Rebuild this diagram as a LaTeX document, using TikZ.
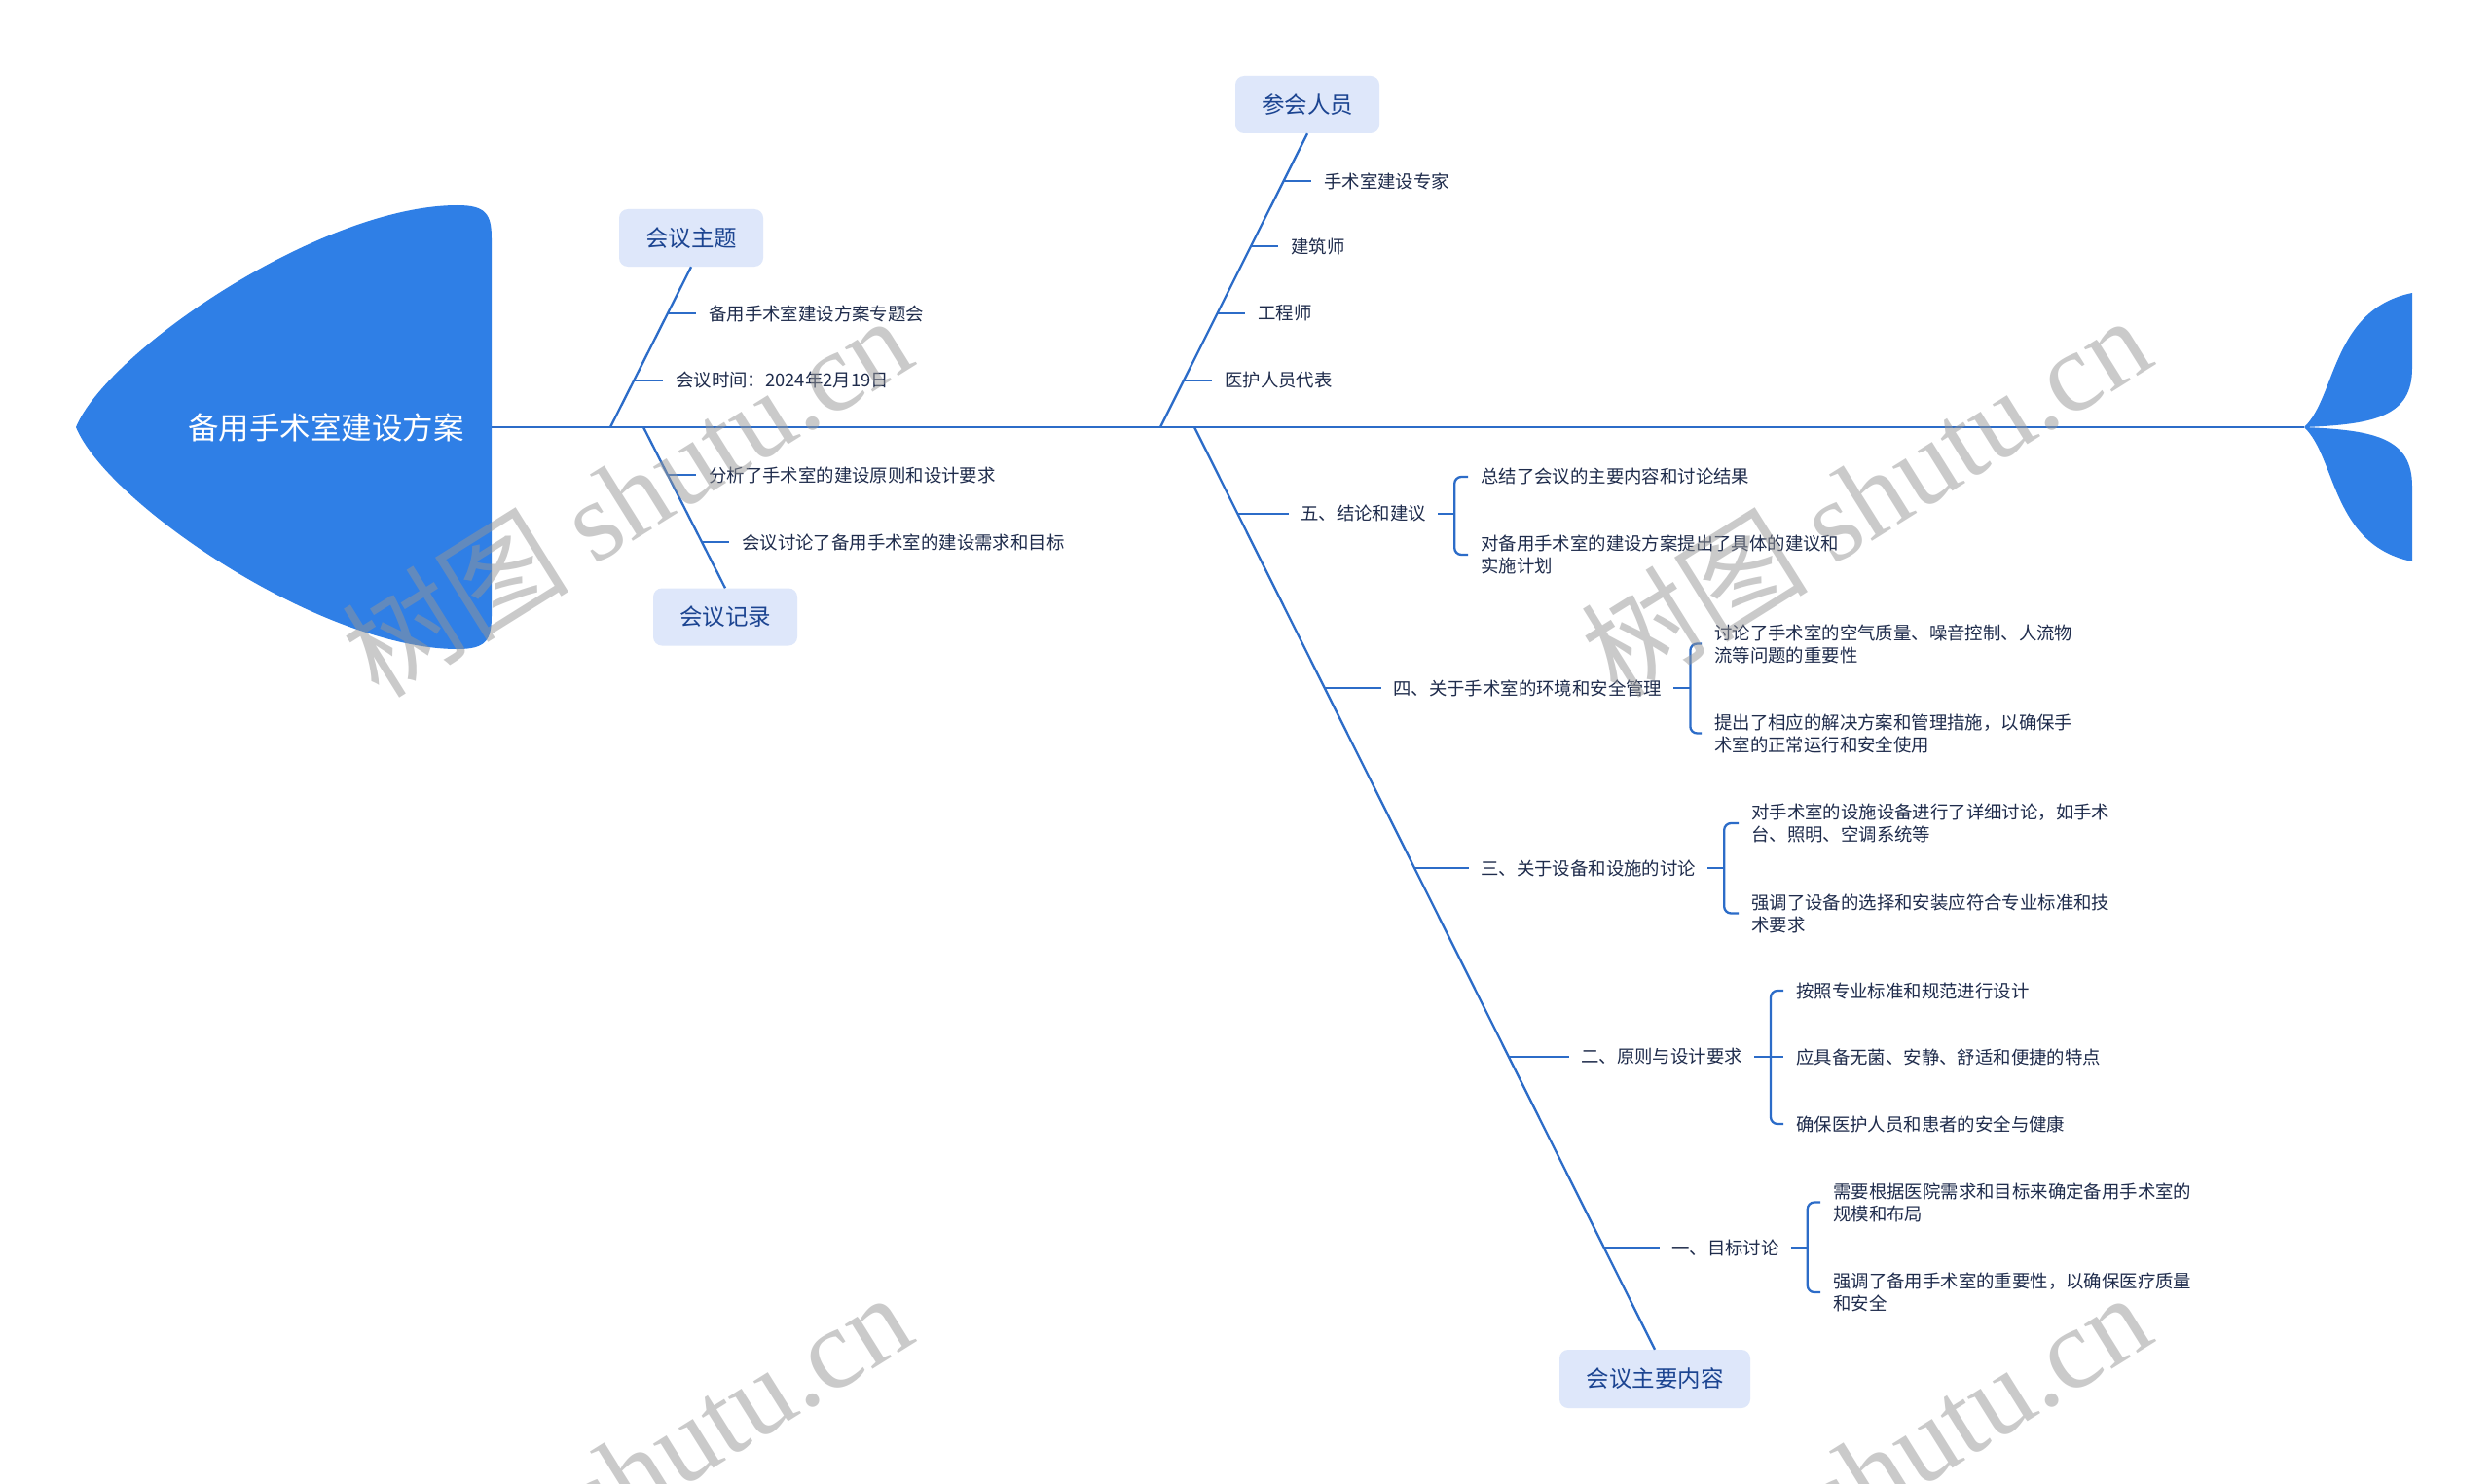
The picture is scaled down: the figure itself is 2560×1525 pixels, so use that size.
\documentclass[tikz,border=0pt]{standalone}
\usepackage{fontspec}
\setmainfont{Noto Sans CJK SC}
\newfontfamily\wmserif{Liberation Serif}
\usetikzlibrary{calc}
\definecolor{headc}{HTML}{2F7FE6}
\definecolor{linec}{HTML}{2C6CC8}
\definecolor{boxc}{HTML}{DEE7FA}
\definecolor{boxtxt}{HTML}{1B4491}
\definecolor{leaftxt}{HTML}{1F2C4C}
\definecolor{wmc}{HTML}{969696}
\begin{document}
\begin{tikzpicture}[x=1pt,y=-1pt,
  ln/.style={draw=linec,line width=2.3pt},
  bracel/.style={draw=linec,line width=2.3pt,rounded corners=7pt},
  topic/.style={fill=boxc,rounded corners=9pt,minimum width=148pt,minimum height=59pt,inner sep=0pt,text=boxtxt,font=\fontsize{23.5}{28}\selectfont},
  leaf/.style={anchor=west,inner sep=0pt,text=leaftxt,font=\fontsize{18.4}{23}\selectfont,align=left},
  wm/.style={text=wmc,text opacity=0.5,rotate=32,font=\fontsize{117}{117}\selectfont,inner sep=0pt}
]
\useasboundingbox[fill=white] (0,0) rectangle (2560,1525);

% head
\fill[headc] (78,439) .. controls (110,361) and (330,211) .. (470,211) .. controls (499,211) and (505,220) .. (505,245) -- (505,633) .. controls (505,658) and (499,667) .. (470,667) .. controls (330,667) and (110,517) .. (78,439) -- cycle;
\node[text=white,font=\fontsize{31.5}{36}\selectfont,inner sep=0pt] (title) at (335,439) {备用手术室建设方案};
\coordinate (headR) at (505,439);
\coordinate (tailJ) at (2367,439);
\draw[ln] (headR) -- (tailJ);

% tail
\fill[headc] (tailJ) .. controls (2400,408) and (2395,318) .. (2478,301) -- (2478,378) .. controls (2478,428) and (2440,436) .. (tailJ) -- cycle;
\fill[headc] (tailJ) .. controls (2400,470) and (2395,560) .. (2478,577) -- (2478,500) .. controls (2478,450) and (2440,442) .. (tailJ) -- cycle;

% branch A
\node[topic] (tA) at (710,244.5) {会议主题};
\coordinate (a0) at (627,439);
\draw[ln] (a0) -- (tA.south);
\node[leaf] (a1) at (728,322) {备用手术室建设方案专题会};
\node[leaf] (a2) at (694,391) {会议时间：2024年2月19日};
\coordinate (a1s) at (686,322);
\coordinate (a2s) at (651,391);
\draw[ln] (a1s) -- ([xshift=-13pt]a1.west);
\draw[ln] (a2s) -- ([xshift=-13pt]a2.west);

% branch B
\node[topic] (tB) at (745,634) {会议记录};
\coordinate (b0) at (661,439);
\draw[ln] (b0) -- (tB.north);
\node[leaf] (b1) at (728,488) {分析了手术室的建设原则和设计要求};
\node[leaf] (b2) at (762,557) {会议讨论了备用手术室的建设需求和目标};
\coordinate (b1s) at (686,488);
\coordinate (b2s) at (721,557);
\draw[ln] (b1s) -- ([xshift=-13pt]b1.west);
\draw[ln] (b2s) -- ([xshift=-13pt]b2.west);

% branch C
\node[topic] (tC) at (1343,107.5) {参会人员};
\coordinate (c0) at (1192,439);
\draw[ln] (c0) -- (tC.south);
\node[leaf] (c1) at (1360,186) {手术室建设专家};
\node[leaf] (c2) at (1326,253) {建筑师};
\node[leaf] (c3) at (1292,322) {工程师};
\node[leaf] (c4) at (1258,391) {医护人员代表};
\coordinate (c1s) at (1318.5,186);
\coordinate (c2s) at (1285,253);
\coordinate (c3s) at (1250.5,322);
\coordinate (c4s) at (1216,391);
\foreach \n in {1,2,3,4} \draw[ln] (c\n s) -- ([xshift=-13pt]c\n.west);

% branch D
\node[topic,minimum width=196pt,minimum height=60pt] (tD) at (1700,1417) {会议主要内容};
\coordinate (d0) at (1227,439);
\draw[ln] (d0) -- (tD.north);

\node[leaf] (k5) at (1336,528) {五、结论和建议};
\node[leaf] (k4) at (1431,707) {四、关于手术室的环境和安全管理};
\node[leaf] (k3) at (1521,892) {三、关于设备和设施的讨论};
\node[leaf] (k2) at (1624,1086) {二、原则与设计要求};
\node[leaf] (k1) at (1717,1282) {一、目标讨论};
\coordinate (k5s) at (1271.4,528);
\coordinate (k4s) at (1360.7,707);
\coordinate (k3s) at (1453,892);
\coordinate (k2s) at (1550,1086);
\coordinate (k1s) at (1648,1282);
\foreach \n in {1,...,5} \draw[ln] (k\n s) -- ([xshift=-12pt]k\n.west);

\node[leaf] (k5a) at (1521,490) {总结了会议的主要内容和讨论结果};
\node[leaf] (k5b) at (1521,570) {对备用手术室的建设方案提出了具体的建议和\\实施计划};
\node[leaf] (k4a) at (1761,661.5) {讨论了手术室的空气质量、噪音控制、人流物\\流等问题的重要性};
\node[leaf] (k4b) at (1761,753.5) {提出了相应的解决方案和管理措施，以确保手\\术室的正常运行和安全使用};
\node[leaf] (k3a) at (1799,846) {对手术室的设施设备进行了详细讨论，如手术\\台、照明、空调系统等};
\node[leaf] (k3b) at (1799,938.5) {强调了设备的选择和安装应符合专业标准和技\\术要求};
\node[leaf] (k2a) at (1845,1018) {按照专业标准和规范进行设计};
\node[leaf] (k2b) at (1845,1086) {应具备无菌、安静、舒适和便捷的特点};
\node[leaf] (k2c) at (1845,1155) {确保医护人员和患者的安全与健康};
\node[leaf] (k1a) at (1883,1235.5) {需要根据医院需求和目标来确定备用手术室的\\规模和布局};
\node[leaf] (k1b) at (1883,1328) {强调了备用手术室的重要性，以确保医疗质量\\和安全};

\foreach \n in {1,...,5} \draw[ln] ([xshift=12pt]k\n.east) -- ++(17,0) coordinate (k\n m);
\draw[bracel] ([xshift=-13pt]k5a.west) -| (k5m) |- ([xshift=-13pt]k5b.west);
\draw[bracel] ([xshift=-13pt]k4a.west) -| (k4m) |- ([xshift=-13pt]k4b.west);
\draw[bracel] ([xshift=-13pt]k3a.west) -| (k3m) |- ([xshift=-13pt]k3b.west);
\draw[bracel] ([xshift=-13pt]k2a.west) -| (k2m) |- ([xshift=-13pt]k2c.west);
\draw[ln] (k2m) -- ([xshift=-13pt]k2b.west);
\draw[bracel] ([xshift=-13pt]k1a.west) -| (k1m) |- ([xshift=-13pt]k1b.west);

% watermarks
\node[wm] (w1) at (643,509) {树图 {\wmserif shutu.cn}};
\node[wm] (w2) at (1916,509) {树图 {\wmserif shutu.cn}};
\node[wm] (w3) at (643,1513) {树图 {\wmserif shutu.cn}};
\node[wm] (w4) at (1916,1513) {树图 {\wmserif shutu.cn}};
\end{tikzpicture}
\end{document}
